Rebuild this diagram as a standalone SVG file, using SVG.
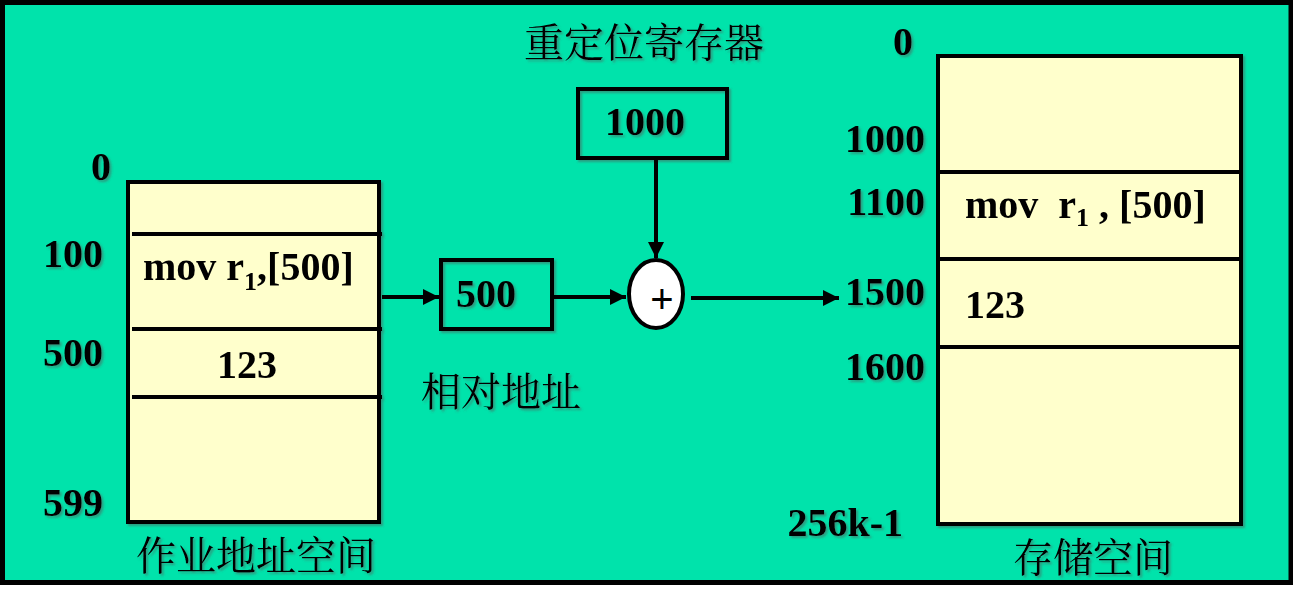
<svg xmlns="http://www.w3.org/2000/svg" width="1293" height="608" viewBox="0 0 1293 608">
<defs>
<style>
.num{font-family:"Liberation Serif","Times New Roman",serif;font-weight:bold;font-size:40px;fill:#000}
.cjk{font-family:"Noto Serif CJK SC","Noto Sans CJK SC",sans-serif;font-size:40px;fill:#000}
.mem{fill:#FFFFCC;stroke:#000;stroke-width:4}
.reg{fill:none;stroke:#000;stroke-width:4}
.div{stroke:#000;stroke-width:4}
.conn{stroke:#000;stroke-width:4;fill:none}
</style>
<marker id="ah" viewBox="0 0 10 10" refX="10" refY="5" markerWidth="4" markerHeight="4" markerUnits="strokeWidth" orient="auto">
<path d="M0,0 L10,5 L0,10 z" fill="#000"/>
</marker>
<filter id="sh" x="-10%" y="-10%" width="130%" height="140%">
<feDropShadow dx="2" dy="2" stdDeviation="1" flood-color="#555" flood-opacity="0.5"/>
</filter>
</defs>
<rect x="0" y="0" width="1293" height="608" fill="#fff"/>
<rect x="2.5" y="2.5" width="1288.5" height="580" fill="#00E3AB" stroke="#000" stroke-width="5"/>

<g id="job-space" filter="url(#sh)">
<rect class="mem" x="128" y="182" width="251" height="340"/>
<line class="div" x1="132" y1="234" x2="382" y2="234"/>
<line class="div" x1="132" y1="329" x2="382" y2="329"/>
<line class="div" x1="132" y1="397" x2="382" y2="397"/>
<text class="num" x="111" y="180" text-anchor="end">0</text>
<text class="num" x="103" y="267" text-anchor="end">100</text>
<text class="num" x="103" y="366" text-anchor="end">500</text>
<text class="num" x="103" y="516" text-anchor="end">599</text>
<text class="num" x="143" y="280">mov r<tspan font-size="26" dy="10">1</tspan><tspan dy="-10">,[500]</tspan></text>
<text class="num" x="247" y="378" text-anchor="middle">123</text>
<text class="cjk" x="256" y="570" text-anchor="middle" font-size="41">作业地址空间</text>
</g>

<g id="relative-addr" filter="url(#sh)">
<rect class="reg" x="441" y="260" width="111" height="69"/>
<text class="num" x="456" y="307">500</text>
<text class="cjk" x="501" y="406" text-anchor="middle" font-size="41">相对地址</text>
</g>

<g id="relocation-register" filter="url(#sh)">
<rect class="reg" x="578" y="89" width="149" height="69"/>
<text class="num" x="605" y="135">1000</text>
<text class="cjk" x="644" y="57" text-anchor="middle" font-size="42">重定位寄存器</text>
</g>

<g id="adder">
<ellipse cx="656" cy="294" rx="27" ry="34" fill="#fff" stroke="#000" stroke-width="4"/>
<text x="662" y="313" text-anchor="middle" font-family="Liberation Sans,Arial,sans-serif" font-size="40" fill="#000">+</text>
</g>

<g id="memory-space" filter="url(#sh)">
<rect class="mem" x="938" y="56" width="303" height="468"/>
<line class="div" x1="938" y1="172" x2="1241" y2="172"/>
<line class="div" x1="938" y1="259" x2="1241" y2="259"/>
<line class="div" x1="938" y1="347" x2="1241" y2="347"/>
<text class="num" x="903" y="55" text-anchor="middle">0</text>
<text class="num" x="925" y="152" text-anchor="end">1000</text>
<text class="num" x="925" y="215" text-anchor="end">1100</text>
<text class="num" x="925" y="305" text-anchor="end">1500</text>
<text class="num" x="925" y="380" text-anchor="end">1600</text>
<text class="num" x="903" y="536" text-anchor="end">256k-1</text>
<text class="num" x="965" y="218" xml:space="preserve">mov  r<tspan font-size="26" dy="8">1</tspan><tspan dy="-8"> , [500]</tspan></text>
<text class="num" x="965" y="318">123</text>
<text class="cjk" x="1093" y="572" text-anchor="middle" font-size="41">存储空间</text>
</g>

<g id="connectors">
<line class="conn" x1="382" y1="297" x2="439" y2="297" marker-end="url(#ah)"/>
<line class="conn" x1="554" y1="297" x2="626" y2="297" marker-end="url(#ah)"/>
<line class="conn" x1="656" y1="160" x2="656" y2="258" marker-end="url(#ah)"/>
<line class="conn" x1="691" y1="298" x2="839" y2="298" marker-end="url(#ah)"/>
</g>
</svg>
